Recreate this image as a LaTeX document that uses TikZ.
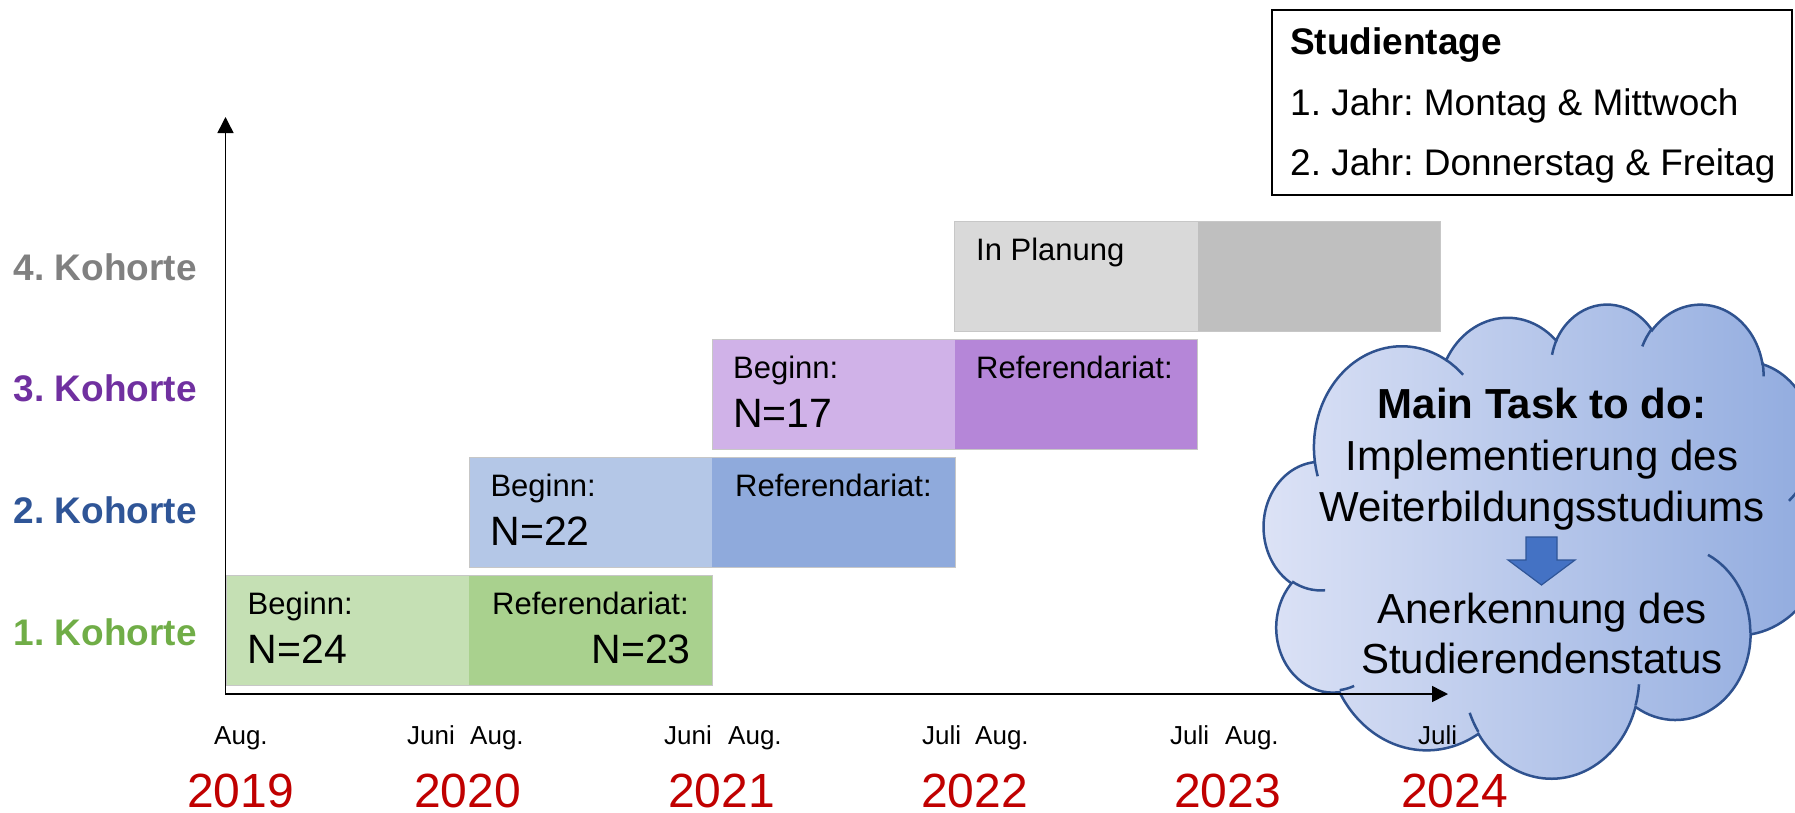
\documentclass[tikz,border=0pt]{standalone}
\usepackage{fontspec}
\setmainfont{Liberation Sans}
\usetikzlibrary{arrows.meta}
\frenchspacing

\definecolor{gL}{HTML}{C5E0B4}
\definecolor{gD}{HTML}{A9D18E}
\definecolor{bL}{HTML}{B4C7E7}
\definecolor{bD}{HTML}{8FAADC}
\definecolor{pL}{RGB}{208,178,232}
\definecolor{pD}{RGB}{181,134,216}
\definecolor{grL}{HTML}{D9D9D9}
\definecolor{grD}{HTML}{BFBFBF}
\definecolor{kgray}{HTML}{808080}
\definecolor{kpurple}{HTML}{7030A0}
\definecolor{kblue}{HTML}{2F5597}
\definecolor{kgreen}{HTML}{70AD47}
\definecolor{yearred}{HTML}{C00000}
\definecolor{cloudedge}{HTML}{2F528F}
\definecolor{cloudL}{RGB}{221,227,246}
\definecolor{cloudR}{RGB}{142,169,222}
\definecolor{arrowfill}{HTML}{4472C4}

% PowerPoint cloud geometry (path space 432 x 432)
\def\cloudpath{}
\def\cloudinner{}
\newcommand\arcspec[4]{%
  \pgfmathsetmacro\ctA{atan2((#1)*sin(#3),(#2)*cos(#3))}%
  \pgfmathsetmacro\ctB{atan2((#1)*sin((#3)+(#4)),(#2)*cos((#3)+(#4)))}%
  \pgfmathsetmacro\ctD{\ctB-\ctA}%
  \pgfmathsetmacro\ctD{\ctD<0 ? \ctD+360 : \ctD}%
  \edef\arcres{arc[x radius=#1, y radius=#2, start angle=\ctA, delta angle=\ctD]}%
}
\newcommand\addmain[4]{\arcspec{#1}{#2}{#3}{#4}\xdef\cloudpath{\cloudpath\arcres}}
\newcommand\addinner[6]{\arcspec{#3}{#4}{#5}{#6}\xdef\cloudinner{\cloudinner (#1,#2) \arcres}}

\addmain{67.53}{91.90}{-190.48748}{123.78053}
\addmain{53.33}{72.67}{-144.10238}{89.94523}
\addmain{43.65}{59.45}{-145.80792}{99.72302}
\addmain{48.57}{65.95}{-130.98607}{117.24173}
\addmain{53.33}{72.73}{-78.70888}{109.02692}
\addmain{67.75}{92.20}{-46.26725}{130.26900}
\addmain{57.85}{78.67}{0.62502}{114.03333}
\addmain{67.52}{92.15}{22.45160}{115.17255}
\addmain{77.20}{105.43}{66.24263}{75.71102}
\addmain{43.60}{59.18}{-274.94208}{146.73557}
\addmain{43.45}{59.45}{-246.82850}{152.51885}

\addinner{46.93}{261.77}{43.45}{59.45}{86.74200}{26.42950}
\addinner{69.28}{348.99}{43.60}{59.18}{73.61047}{11.44747}
\addinner{164.78}{390.90}{67.52}{92.15}{137.62415}{14.08110}
\addinner{288.27}{347.51}{67.52}{92.15}{6.45327}{15.99835}
\addinner{341.29}{229.54}{57.85}{78.67}{-70.29235}{70.91737}
\addinner{417.98}{153.54}{53.33}{72.73}{30.31803}{27.75150}
\addinner{383.24}{54.26}{48.57}{65.95}{-13.74433}{14.85890}
\addinner{290.78}{39.52}{48.57}{65.95}{-149.18145}{18.19537}
\addinner{221.41}{47.20}{43.65}{59.45}{-163.49427}{17.68635}
\addinner{140.00}{51.92}{67.53}{91.90}{-66.70695}{12.31935}
\addinner{41.27}{157.89}{67.53}{91.90}{157.65435}{11.85817}

\tikzset{
  barhalf/.style={inner sep=0pt, minimum width=242.75pt, minimum height=110pt, anchor=north west},
  barframe/.style={draw=black!22, line width=0.9pt},
  lbl/.style={inner sep=0pt, anchor=base west, font=\fontsize{31}{37}\selectfont},
  nlbl/.style={inner sep=0pt, anchor=base west, font=\fontsize{41}{49}\selectfont},
  kohorte/.style={inner sep=0pt, anchor=base west, font=\bfseries\fontsize{37}{44}\selectfont},
  month/.style={inner sep=0pt, anchor=base west, font=\fontsize{26}{31}\selectfont},
  year/.style={inner sep=0pt, anchor=base west, text=yearred, font=\fontsize{48}{58}\selectfont},
  legendtxt/.style={inner sep=0pt, anchor=base west, font=\fontsize{37}{44}\selectfont},
  cloudtxt/.style={inner sep=0pt, anchor=base, font=\fontsize{42}{50}\selectfont},
  axis/.style={line width=1.5pt, -{Triangle[length=16pt,width=16pt]}},
  cloudshape/.style={draw=cloudedge, line width=2.5pt, left color=cloudL, right color=cloudR},
  cloudline/.style={draw=cloudedge, line width=2.5pt},
}

\begin{document}
\begin{tikzpicture}[x=1pt, y=-1pt]
\useasboundingbox (0,0) rectangle (1795,812);

% ---- bars ----
\node[barhalf, fill=gL] (k1a) at (226.5,575) {};
\node[barhalf, fill=gD] (k1b) at (469.25,575) {};
\draw[barframe] (k1a.north west) rectangle (k1b.south east);
\node[barhalf, fill=bL] (k2a) at (469.25,457) {};
\node[barhalf, fill=bD] (k2b) at (712,457) {};
\draw[barframe] (k2a.north west) rectangle (k2b.south east);
\node[barhalf, fill=pL] (k3a) at (712,339) {};
\node[barhalf, fill=pD] (k3b) at (954.75,339) {};
\draw[barframe] (k3a.north west) rectangle (k3b.south east);
\node[barhalf, fill=grL] (k4a) at (954.75,221) {};
\node[barhalf, fill=grD] (k4b) at (1197.5,221) {};
\draw[barframe] (k4a.north west) rectangle (k4b.south east);

% ---- bar texts ----
\node[lbl] (b1) at (247.5,614.4) {Beginn:};
\node[nlbl] (n1) at (247.5,663.7) {N=24};
\node[lbl] (r1) at (492,614.4) {Referendariat:};
\node[nlbl, anchor=base east] (n1b) at (691,663.7) {N=23};
\node[lbl] (b2) at (490.3,496.4) {Beginn:};
\node[nlbl] (n2) at (490.3,545.7) {N=22};
\node[lbl] (r2) at (735,496.4) {Referendariat:};
\node[lbl] (b3) at (733,378.4) {Beginn:};
\node[nlbl] (n3) at (733,427.7) {N=17};
\node[lbl] (r3) at (976,378.4) {Referendariat:};
\node[lbl] (p4) at (976,260.4) {In Planung};

% ---- Kohorte labels ----
\node[kohorte, text=kgray] (l4) at (13.5,280) {4. Kohorte};
\node[kohorte, text=kpurple] (l3) at (13.5,401.7) {3. Kohorte};
\node[kohorte, text=kblue] (l2) at (13.5,523.3) {2. Kohorte};
\node[kohorte, text=kgreen] (l1) at (13.5,645) {1. Kohorte};

% ---- legend ----
\node[draw, line width=1.5pt, inner sep=0pt, minimum width=520pt, minimum height=185pt, anchor=north west] (legend) at (1271,9) {};
\node[legendtxt, font=\bfseries\fontsize{37}{44}\selectfont] (lt) at (1290,54) {Studientage};
\node[legendtxt] (lj1) at (1290,115) {1. Jahr: Montag \& Mittwoch};
\node[legendtxt] (lj2) at (1290,175) {2. Jahr: Donnerstag \& Freitag};

% ---- cloud ----
\begin{scope}
\clip (0,0) rectangle (1795,812);
\begin{scope}[shift={(1264,303)}, x=1.30093pt, y=-1.09722pt]
\edef\cloudcmd{\noexpand\path[cloudshape] (39.00,143.70) \cloudpath -- cycle;}\cloudcmd
\edef\cloudcmd{\noexpand\draw[cloudline] \cloudinner;}\cloudcmd
\end{scope}
\end{scope}
\node[cloudtxt, font=\bfseries\fontsize{42}{50}\selectfont] (c1) at (1542,418) {Main Task to do:};
\node[cloudtxt] (c2) at (1542,470) {Implementierung des};
\node[cloudtxt] (c3) at (1542,521.5) {Weiterbildungsstudiums};
\node[cloudtxt] (c4) at (1542,623) {Anerkennung des};
\node[cloudtxt] (c5) at (1542,673.5) {Studierendenstatus};
\draw[fill=arrowfill, draw=kblue, line width=1.2pt, line join=miter]
  (1526,537) -- (1557,537) -- (1557,560) -- (1575,560) -- (1541.5,585)
  -- (1508,560) -- (1526,560) -- cycle;

% ---- axes ----
\coordinate (O) at (225.5,694);
\coordinate (ytop) at (225.5,117);
\coordinate (xend) at (1448,694);
\draw[axis] ([yshift=-0.75pt]O) -- (ytop);
\draw[axis] (O) -- (xend);

% ---- months ----
\node[month] (m1) at (214,744) {Aug.};
\node[month] (m2) at (407,744) {Juni};
\node[month] (m3) at (470,744) {Aug.};
\node[month] (m4) at (664,744) {Juni};
\node[month] (m5) at (728,744) {Aug.};
\node[month] (m6) at (922,744) {Juli};
\node[month] (m7) at (975,744) {Aug.};
\node[month] (m8) at (1170,744) {Juli};
\node[month] (m9) at (1225,744) {Aug.};
\node[month] (m10) at (1418,744) {Juli};

% ---- years ----
\node[year] (y1) at (187,807) {2019};
\node[year] (y2) at (414,807) {2020};
\node[year] (y3) at (668,807) {2021};
\node[year] (y4) at (921,807) {2022};
\node[year] (y5) at (1174,807) {2023};
\node[year] (y6) at (1401,807) {2024};
\end{tikzpicture}
\end{document}
